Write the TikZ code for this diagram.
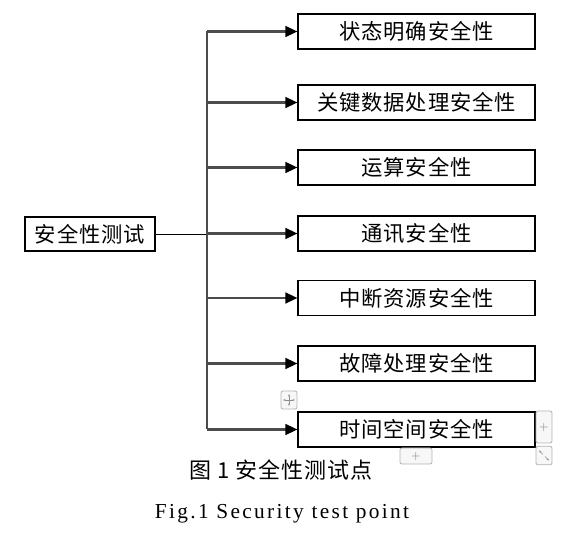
\documentclass[tikz,border=0pt]{standalone}
\usepackage{fontspec}
\newfontfamily\cjk[LetterSpace=4]{Noto Sans CJK SC}
\newfontfamily\capfont[LetterSpace=11]{Liberation Serif}
\setmainfont{Liberation Serif}
\usetikzlibrary{arrows.meta,calc}
\begin{document}
\begin{tikzpicture}[x=0.75pt,y=-0.75pt,
  item/.style={draw=black,line width=0.8pt,minimum width=177.75pt,minimum height=26.25pt,inner sep=0pt,font=\cjk\fontsize{16}{18}\selectfont},
  rootbox/.style={draw=black,line width=0.8pt,minimum width=97.5pt,minimum height=25.5pt,inner sep=0pt,font=\cjk\fontsize{16}{18}\selectfont},
  bus/.style={draw=black!70,line width=1.7pt},
  arr/.style={draw=black!70,line width=1.7pt,-{Triangle[length=9pt,width=8pt,color=black]}},
  thin/.style={draw=black,line width=0.7pt},
  ui/.style={draw=black!30,fill=black!3,rounded corners=1.5pt,line width=0.6pt}
]
\useasboundingbox (0,0) rectangle (583,534);
\node[rootbox] (root) at (90,234) {安全性测试};
\node[item] (b1) at (416.5,31.5) {状态明确安全性};
\node[item] (b2) at (416.5,102.5) {关键数据处理安全性};
\node[item] (b3) at (416.5,167.5) {运算安全性};
\node[item] (b4) at (416.5,233.5) {通讯安全性};
\node[item] (b5) at (416.5,298) {中断资源安全性};
\node[item] (b6) at (416.5,363.5) {故障处理安全性};
\node[item] (b7) at (416.5,429.5) {时间空间安全性};
\coordinate (bus) at (207,234);
\coordinate (top) at (207,31.5);
\coordinate (bot) at (207,429.5);
\draw[thin] (root.east) -- (bus);
\draw[bus] (top) -- (bot);
\foreach \b in {b1,b2,b3,b4,b5,b6,b7}{
  \draw[arr] (\b.west -| bus) -- (\b.west);
}
% caption
\node[font=\cjk\fontsize{16.5}{18}\selectfont] (cap) at (281,470) {图 1 安全性测试点};
\node[font=\capfont\fontsize{16}{18}\selectfont] (capen) at (282,514) {Fig.1 Security test point};
% editor handles
\node[ui,minimum width=12pt,minimum height=13.5pt,inner sep=0pt] (mv) at (289,400) {};
\draw[black!45,line width=0.5pt,-{Stealth[length=2pt]}] (mv.center) -- ++(0,-6);
\draw[black!45,line width=0.5pt,-{Stealth[length=2pt]}] (mv.center) -- ++(0,6);
\draw[black!45,line width=0.5pt,-{Stealth[length=2pt]}] (mv.center) -- ++(-6,0);
\draw[black!45,line width=0.5pt,-{Stealth[length=2pt]}] (mv.center) -- ++(6,0);
\node[ui,minimum width=12pt,minimum height=24pt,inner sep=0pt,text=black!50,font=\sffamily\small] (pr) at (544,427) {+};
\node[ui,minimum width=24pt,minimum height=12pt,inner sep=0pt,text=black!50,font=\sffamily\small] (pb) at (416,456) {+};
\node[ui,minimum width=12pt,minimum height=14pt,inner sep=0pt] (rs) at (544,455.5) {};
\draw[black!45,line width=0.5pt,-{Stealth[length=2pt]}] ($(rs.center)+(-1,-1)$) -- ($(rs.center)+(-5,-5)$);
\draw[black!45,line width=0.5pt,-{Stealth[length=2pt]}] ($(rs.center)+(1,1)$) -- ($(rs.center)+(5,5)$);
\end{tikzpicture}
\end{document}
